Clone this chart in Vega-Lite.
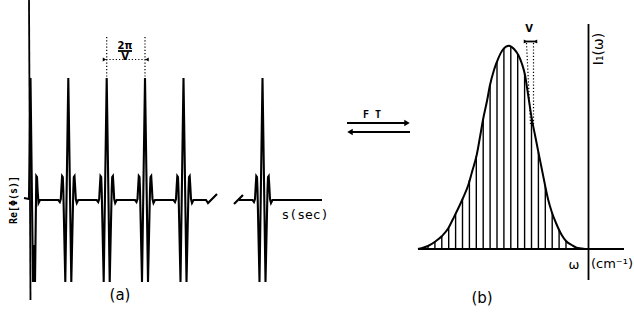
{
  "$schema": "https://vega.github.io/schema/vega-lite/v6.json",
  "width": 634,
  "height": 334,
  "padding": 0,
  "autosize": {"type": "none"},
  "background": "white",
  "view": {"stroke": null},
  "config": {"font": "DejaVu Sans"},
  "datasets": {
    "signal": [
      {"seg":"a","i":1,"x":24,"y":198},{"seg":"a","i":2,"x":29,"y":199},{"seg":"a","i":3,"x":30.5,"y":78},{"seg":"a","i":4,"x":33,"y":282},{"seg":"a","i":5,"x":34,"y":245},{"seg":"a","i":6,"x":35,"y":282},{"seg":"a","i":7,"x":36.3,"y":176},{"seg":"a","i":8,"x":37,"y":177},{"seg":"a","i":9,"x":37.6,"y":190},{"seg":"a","i":10,"x":38.5,"y":203},{"seg":"a","i":11,"x":40,"y":200},
      {"seg":"a","i":12,"x":58.3,"y":200},{"seg":"a","i":13,"x":59.8,"y":202},{"seg":"a","i":14,"x":60.8,"y":199},{"seg":"a","i":15,"x":61.5,"y":186},{"seg":"a","i":16,"x":62.1,"y":176},{"seg":"a","i":17,"x":62.8,"y":177},{"seg":"a","i":18,"x":63.3,"y":190},{"seg":"a","i":19,"x":65.3,"y":282},{"seg":"a","i":20,"x":68.3,"y":78},{"seg":"a","i":21,"x":71.3,"y":282},{"seg":"a","i":22,"x":73.3,"y":190},{"seg":"a","i":23,"x":73.8,"y":177},{"seg":"a","i":24,"x":74.5,"y":176},{"seg":"a","i":25,"x":75.1,"y":186},{"seg":"a","i":26,"x":75.8,"y":199},{"seg":"a","i":27,"x":76.8,"y":203},{"seg":"a","i":28,"x":78.3,"y":200},
      {"seg":"a","i":29,"x":96.7,"y":200},{"seg":"a","i":30,"x":98.2,"y":202},{"seg":"a","i":31,"x":99.2,"y":199},{"seg":"a","i":32,"x":99.9,"y":186},{"seg":"a","i":33,"x":100.5,"y":176},{"seg":"a","i":34,"x":101.2,"y":177},{"seg":"a","i":35,"x":101.7,"y":190},{"seg":"a","i":36,"x":103.7,"y":282},{"seg":"a","i":37,"x":106.7,"y":78},{"seg":"a","i":38,"x":109.7,"y":282},{"seg":"a","i":39,"x":111.7,"y":190},{"seg":"a","i":40,"x":112.2,"y":177},{"seg":"a","i":41,"x":112.9,"y":176},{"seg":"a","i":42,"x":113.5,"y":186},{"seg":"a","i":43,"x":114.2,"y":199},{"seg":"a","i":44,"x":115.2,"y":203},{"seg":"a","i":45,"x":116.7,"y":200},
      {"seg":"a","i":46,"x":135,"y":200},{"seg":"a","i":47,"x":136.5,"y":202},{"seg":"a","i":48,"x":137.5,"y":199},{"seg":"a","i":49,"x":138.2,"y":186},{"seg":"a","i":50,"x":138.8,"y":176},{"seg":"a","i":51,"x":139.5,"y":177},{"seg":"a","i":52,"x":140,"y":190},{"seg":"a","i":53,"x":142,"y":282},{"seg":"a","i":54,"x":145,"y":78},{"seg":"a","i":55,"x":148,"y":282},{"seg":"a","i":56,"x":150,"y":190},{"seg":"a","i":57,"x":150.5,"y":177},{"seg":"a","i":58,"x":151.2,"y":176},{"seg":"a","i":59,"x":151.8,"y":186},{"seg":"a","i":60,"x":152.5,"y":199},{"seg":"a","i":61,"x":153.5,"y":203},{"seg":"a","i":62,"x":155,"y":200},
      {"seg":"a","i":63,"x":173.5,"y":200},{"seg":"a","i":64,"x":175,"y":202},{"seg":"a","i":65,"x":176,"y":199},{"seg":"a","i":66,"x":176.7,"y":186},{"seg":"a","i":67,"x":177.3,"y":176},{"seg":"a","i":68,"x":178,"y":177},{"seg":"a","i":69,"x":178.5,"y":190},{"seg":"a","i":70,"x":180.5,"y":282},{"seg":"a","i":71,"x":183.5,"y":78},{"seg":"a","i":72,"x":186.5,"y":282},{"seg":"a","i":73,"x":188.5,"y":190},{"seg":"a","i":74,"x":189,"y":177},{"seg":"a","i":75,"x":189.7,"y":176},{"seg":"a","i":76,"x":190.3,"y":186},{"seg":"a","i":77,"x":191,"y":199},{"seg":"a","i":78,"x":192,"y":203},{"seg":"a","i":79,"x":193.5,"y":200},
      {"seg":"a","i":80,"x":206,"y":200},{"seg":"a","i":81,"x":208,"y":203},{"seg":"a","i":82,"x":217,"y":194},
      {"seg":"b","i":83,"x":234,"y":204},{"seg":"b","i":84,"x":243,"y":195},
      {"seg":"c","i":85,"x":239,"y":200},
      {"seg":"c","i":86,"x":252.5,"y":200},{"seg":"c","i":87,"x":254,"y":202},{"seg":"c","i":88,"x":255,"y":199},{"seg":"c","i":89,"x":255.7,"y":186},{"seg":"c","i":90,"x":256.3,"y":176},{"seg":"c","i":91,"x":257,"y":177},{"seg":"c","i":92,"x":257.5,"y":190},{"seg":"c","i":93,"x":259.5,"y":282},{"seg":"c","i":94,"x":262.5,"y":78},{"seg":"c","i":95,"x":265.5,"y":282},{"seg":"c","i":96,"x":267.5,"y":190},{"seg":"c","i":97,"x":268,"y":177},{"seg":"c","i":98,"x":268.7,"y":176},{"seg":"c","i":99,"x":269.3,"y":186},{"seg":"c","i":100,"x":270,"y":199},{"seg":"c","i":101,"x":271,"y":203},{"seg":"c","i":102,"x":272.5,"y":200},
      {"seg":"c","i":103,"x":322,"y":200}
    ],
    "spectrum": [
      {"i":1,"x":418,"y":249},{"i":2,"x":420,"y":248.5},{"i":3,"x":428,"y":246},{"i":4,"x":435,"y":241.7},{"i":5,"x":442,"y":236},{"i":6,"x":448.3,"y":228.3},{"i":7,"x":453,"y":219},{"i":8,"x":458.3,"y":208.3},{"i":9,"x":463,"y":198},{"i":10,"x":468.3,"y":185},{"i":11,"x":472,"y":172},{"i":12,"x":476.7,"y":155},{"i":13,"x":480,"y":137},{"i":14,"x":483.3,"y":118.3},{"i":15,"x":487,"y":101},{"i":16,"x":490,"y":85},{"i":17,"x":494,"y":70},{"i":18,"x":498.3,"y":58.3},{"i":19,"x":503,"y":49.5},{"i":20,"x":509,"y":45.7},{"i":21,"x":514,"y":49},{"i":22,"x":518.3,"y":55},{"i":23,"x":522,"y":64},{"i":24,"x":525,"y":75},{"i":25,"x":528,"y":94},{"i":26,"x":531.7,"y":118.3},{"i":27,"x":535,"y":135},{"i":28,"x":538.3,"y":151.7},{"i":29,"x":542,"y":170},{"i":30,"x":545,"y":185},{"i":31,"x":548,"y":199},{"i":32,"x":551.7,"y":211.7},{"i":33,"x":556,"y":223},{"i":34,"x":561.7,"y":235},{"i":35,"x":566,"y":241},{"i":36,"x":571.7,"y":245},{"i":37,"x":576,"y":247.5},{"i":38,"x":581.7,"y":248.5},{"i":39,"x":585,"y":249}
    ],
    "hatch": [
      {"x":428,"y":245.5},{"x":434.9,"y":241.8},{"x":441.8,"y":236},{"x":448.7,"y":227.5},{"x":455.6,"y":214},{"x":462.5,"y":199},{"x":469.4,"y":180},{"x":476.3,"y":156},{"x":483.2,"y":119},{"x":490.1,"y":84.5},{"x":497,"y":61},{"x":503.9,"y":49},{"x":510.8,"y":46.5},{"x":517.7,"y":54},{"x":524.6,"y":73.5},{"x":531.5,"y":117},{"x":538.4,"y":152},{"x":545.3,"y":186},{"x":552.2,"y":213},{"x":559.1,"y":230},{"x":566,"y":241}
    ],
    "solid": [
      {"x":29,"y":0,"x2":30.5,"y2":300},
      {"x":588.5,"y":24,"x2":588.5,"y2":280},
      {"x":418,"y":249,"x2":624,"y2":249},
      {"x":347,"y":123,"x2":406,"y2":123},
      {"x":351,"y":132,"x2":410,"y2":132},
      {"x":118,"y":51,"x2":132,"y2":51},
      {"x":524,"y":41.5,"x2":537,"y2":41.5}
    ],
    "dotted": [
      {"x":103,"y":59.5,"x2":148,"y2":59.5},
      {"x":106.7,"y":37,"x2":106.7,"y2":78},
      {"x":145,"y":37,"x2":145,"y2":78},
      {"x":526.5,"y":43,"x2":530.5,"y2":124},
      {"x":533.5,"y":43,"x2":533.5,"y2":124}
    ],
    "heads": [
      {"x":407,"y":123,"dir":"right","kind":"big"},
      {"x":350,"y":132,"dir":"left","kind":"big"},
      {"x":104.5,"y":59.5,"dir":"right","kind":"small"},
      {"x":147,"y":59.5,"dir":"left","kind":"small"},
      {"x":525.5,"y":41.5,"dir":"right","kind":"small"},
      {"x":535.5,"y":41.5,"dir":"left","kind":"small"}
    ],
    "tags": [
      {"x":120,"y":295,"text":"(a)"},
      {"x":482,"y":298,"text":"(b)"}
    ],
    "monolabels": [
      {"x":305,"y":215,"text":"s(sec)"}
    ],
    "units": [
      {"x":574,"y":265,"text":"ω"},
      {"x":612,"y":264,"text":"(cm⁻¹)"}
    ],
    "small": [
      {"x":125,"y":45.5,"text":"2π"},
      {"x":125,"y":56.5,"text":"V"},
      {"x":529,"y":29,"text":"V"}
    ],
    "ft": [
      {"x":372,"y":115,"text":"F T"}
    ],
    "vleft": [
      {"x":14,"y":200,"text":"Re[Φ(s)]"}
    ],
    "vright": [
      {"x":599,"y":49,"text":"I₁(ω)"}
    ]
  },
  "encoding": {
    "x": {"field": "x", "type": "quantitative", "scale": {"domain": [0, 634], "nice": false, "zero": false}, "axis": null},
    "y": {"field": "y", "type": "quantitative", "scale": {"domain": [0, 334], "nice": false, "zero": false, "reverse": true}, "axis": null}
  },
  "layer": [
    {
      "data": {"name": "hatch"},
      "mark": {"type": "rule", "color": "black", "strokeWidth": 1.4},
      "encoding": {"y2": {"datum": 249}}
    },
    {
      "data": {"name": "solid"},
      "mark": {"type": "rule", "color": "black", "strokeWidth": 1.8},
      "encoding": {"x2": {"field": "x2"}, "y2": {"field": "y2"}}
    },
    {
      "data": {"name": "dotted"},
      "mark": {"type": "rule", "color": "black", "strokeWidth": 1.2, "strokeDash": [1.2, 2]},
      "encoding": {"x2": {"field": "x2"}, "y2": {"field": "y2"}}
    },
    {
      "data": {"name": "signal"},
      "mark": {"type": "line", "color": "black", "strokeWidth": 2.1, "strokeJoin": "miter", "strokeMiterLimit": 20},
      "encoding": {"detail": {"field": "seg"}, "order": {"field": "i"}}
    },
    {
      "data": {"name": "spectrum"},
      "mark": {"type": "line", "color": "black", "strokeWidth": 2, "interpolate": "monotone"},
      "encoding": {"order": {"field": "i"}}
    },
    {
      "data": {"name": "heads"},
      "transform": [{"filter": "datum.kind === 'big'"}],
      "mark": {"type": "point", "filled": true, "color": "black", "opacity": 1, "size": 40},
      "encoding": {"shape": {"field": "dir", "type": "nominal", "legend": null, "scale": {"domain": ["right", "left"], "range": ["triangle-right", "triangle-left"]}}}
    },
    {
      "data": {"name": "heads"},
      "transform": [{"filter": "datum.kind === 'small'"}],
      "mark": {"type": "point", "filled": true, "color": "black", "opacity": 1, "size": 16},
      "encoding": {"shape": {"field": "dir", "type": "nominal", "legend": null, "scale": {"domain": ["right", "left"], "range": ["triangle-right", "triangle-left"]}}}
    },
    {
      "data": {"name": "tags"},
      "mark": {"type": "text", "fontSize": 15, "color": "black", "baseline": "middle", "align": "center"},
      "encoding": {"text": {"field": "text"}}
    },
    {
      "data": {"name": "monolabels"},
      "mark": {"type": "text", "font": "DejaVu Sans Mono", "fontSize": 13, "color": "black", "baseline": "middle", "align": "center"},
      "encoding": {"text": {"field": "text"}}
    },
    {
      "data": {"name": "units"},
      "mark": {"type": "text", "fontSize": 13, "color": "black", "baseline": "middle", "align": "center"},
      "encoding": {"text": {"field": "text"}}
    },
    {
      "data": {"name": "small"},
      "mark": {"type": "text", "fontSize": 10, "fontWeight": "bold", "color": "black", "baseline": "middle", "align": "center"},
      "encoding": {"text": {"field": "text"}}
    },
    {
      "data": {"name": "ft"},
      "mark": {"type": "text", "font": "DejaVu Sans Mono", "fontSize": 10, "fontWeight": "bold", "color": "black", "baseline": "middle", "align": "center"},
      "encoding": {"text": {"field": "text"}}
    },
    {
      "data": {"name": "vleft"},
      "mark": {"type": "text", "font": "DejaVu Sans Mono", "fontSize": 10, "fontWeight": "bold", "color": "black", "baseline": "middle", "align": "center", "angle": 270},
      "encoding": {"text": {"field": "text"}}
    },
    {
      "data": {"name": "vright"},
      "mark": {"type": "text", "fontSize": 14, "color": "black", "baseline": "middle", "align": "center", "angle": 270},
      "encoding": {"text": {"field": "text"}}
    }
  ]
}
